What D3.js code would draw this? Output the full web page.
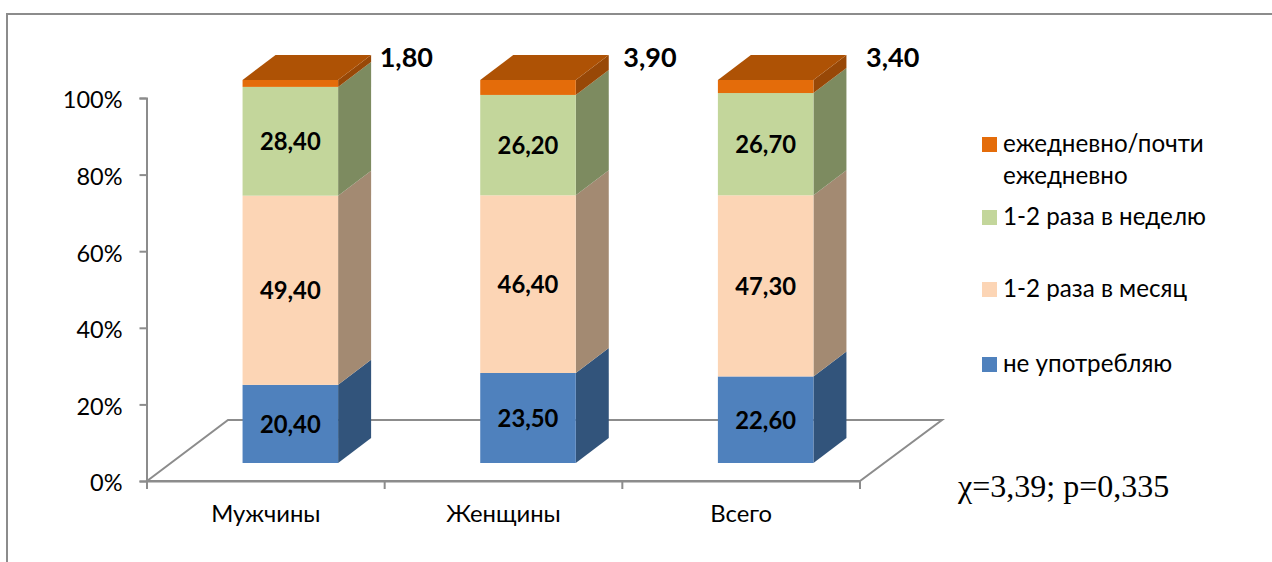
<!DOCTYPE html>
<html lang="ru">
<head>
<meta charset="utf-8">
<script src="https://cdn.jsdelivr.net/npm/d3@7/dist/d3.min.js"></script>
<style>
  html, body { margin: 0; padding: 0; background: #fff; }
  svg { display: block; }
  text { font-family: Lato, "Open Sans", sans-serif; fill: #000; }
</style>
</head>
<body>
<svg id="chart" width="1272" height="562"></svg>
<script>
// Frequency of use by group, percent of each group
const categories = ["Мужчины", "Женщины", "Всего"];
const neverUse = [20.4, 23.5, 22.6];
const monthly = [49.4, 46.4, 47.3];
const weekly = [28.4, 26.2, 26.7];
const daily = [1.8, 3.9, 3.4];
const seriesNames = ["не употребляю", "1-2 раза в месяц", "1-2 раза в неделю", "ежедневно/почти ежедневно"];
const yTicks = [0, 20, 40, 60, 80, 100];
const statNote = "χ=3,39; p=0,335";

const rows = categories.map((c, i) => ({
  category: c,
  s0: neverUse[i], s1: monthly[i], s2: weekly[i], s3: daily[i]
}));
const keys = ["s0", "s1", "s2", "s3"];
const stacked = d3.stack().keys(keys)(rows);

const frontFill = ["#4f81bd", "#fcd5b5", "#c3d69b", "#e46c0a"];
const sideFill = ["#32547b", "#a38a72", "#7d8b60", "#984807"];
const topFill = "#ae5205";
const axisGrey = "#8c8c8c";

const svg = d3.select("#chart");

// Outer chart border: only the top and left edges fall inside the page
svg.append("path")
  .attr("d", "M7,562V14H1272")
  .attr("fill", "none").attr("stroke", axisGrey).attr("stroke-width", 2);

const plot = { left: 147, right: 860, top: 98, bottom: 481 };
const depth = { dx: 33, dy: 25 };        // bar extrusion
const floor = { dx: 81, dy: 61 };        // floor extrusion
const lift = 18;                          // bars stand this far above the front floor edge
const barShift = 24.5;                    // and this far behind it, to the right

const x = d3.scaleBand().domain(categories)
  .range([plot.left, plot.right]).paddingInner(0.598).paddingOuter(0.299);
const y = d3.scaleLinear().domain([0, 100]).range([plot.bottom, plot.top]);

// Floor parallelogram, behind the bars
svg.append("path")
  .attr("d", `M${plot.left},${plot.bottom}L${plot.left + floor.dx},${plot.bottom - floor.dy}` +
             `H${plot.right + floor.dx + 1}L${plot.right},${plot.bottom}Z`)
  .attr("fill", "none").attr("stroke", axisGrey).attr("stroke-width", 2)
  .attr("stroke-linejoin", "miter");

// Value axis
const yAxis = svg.append("g").attr("transform", `translate(${plot.left - 0.5},0)`)
  .call(d3.axisLeft(y).tickValues(yTicks).tickFormat(d => d + "%").tickSize(7).tickPadding(17));
yAxis.selectAll("text").style("font-size", "23.5px").style("fill", "#000").attr("dy", "0.42em");

// Category axis
const xAxis = svg.append("g").attr("transform", `translate(0,${plot.bottom})`)
  .call(d3.axisBottom(x).tickSize(0).tickPadding(24));
xAxis.selectAll("text").style("font-size", "23.8px").style("fill", "#000");
xAxis.selectAll(".tick line").remove();
svg.selectAll(".domain").attr("stroke", axisGrey).attr("stroke-width", 2);
yAxis.selectAll(".tick line").attr("stroke", axisGrey).attr("stroke-width", 2);

// Category boundary ticks on the front floor edge
const step = x.step();
svg.append("g").selectAll("line")
  .data(d3.range(categories.length + 1))
  .join("line")
  .attr("x1", i => plot.left + i * step).attr("x2", i => plot.left + i * step)
  .attr("y1", plot.bottom).attr("y2", plot.bottom + 8)
  .attr("stroke", axisGrey).attr("stroke-width", 2);

const barX0 = c => x(c) + barShift;
const barX1 = c => x(c) + barShift + x.bandwidth();
const barY = v => y(v) - lift;

// Stacked columns, each segment a front face plus a side face
const series = svg.selectAll("g.series").data(stacked).join("g").attr("class", "series");

series.selectAll("path.side")
  .data((s, si) => s.map(d => ({ d, si })))
  .join("path").attr("class", "side")
  .attr("fill", e => sideFill[e.si])
  .attr("d", e => {
    const xr = barX1(e.d.data.category);
    const y0 = barY(e.d[0]), y1 = barY(e.d[1]);
    return `M${xr},${y0}V${y1}L${xr + depth.dx},${y1 - depth.dy}V${y0 - depth.dy}Z`;
  });

series.selectAll("rect.front")
  .data((s, si) => s.map(d => ({ d, si })))
  .join("rect").attr("class", "front")
  .attr("fill", e => frontFill[e.si])
  .attr("x", e => barX0(e.d.data.category))
  .attr("width", x.bandwidth())
  .attr("y", e => barY(e.d[1]))
  .attr("height", e => barY(e.d[0]) - barY(e.d[1]));

// Top face of each column
svg.append("g").selectAll("path")
  .data(rows)
  .join("path")
  .attr("fill", topFill)
  .attr("d", r => {
    const t = barY(100);
    return `M${barX0(r.category)},${t}L${barX0(r.category) + depth.dx},${t - depth.dy}` +
           `H${barX1(r.category) + depth.dx}L${barX1(r.category)},${t}Z`;
  });

// Value labels
const fmt = v => v.toFixed(2).replace(".", ",");
const labels = svg.append("g").style("font-weight", 700).style("font-size", "23.8px")
  .attr("text-anchor", "middle");

stacked.slice(0, 3).forEach(s => {
  labels.selectAll(null).data(s).join("text")
    .attr("x", d => x(d.data.category) + barShift + x.bandwidth() / 2)
    .attr("y", d => (barY(d[0]) + barY(d[1])) / 2 + 9)
    .text(d => fmt(d[1] - d[0]));
});

// The thin top segments carry their labels beside the column
const outsideOffset = [116, 122, 127];
labels.selectAll(null).data(stacked[3]).join("text")
  .attr("x", (d, i) => x(d.data.category) + barShift + x.bandwidth() / 2 + outsideOffset[i])
  .attr("y", 67)
  .style("font-size", "27px")
  .text(d => fmt(d[1] - d[0]));

// Legend, in reverse stacking order
const legendRows = [
  { i: 3, lines: ["ежедневно/почти", "ежедневно"], top: 137 },
  { i: 2, lines: ["1-2 раза в неделю"], top: 210 },
  { i: 1, lines: ["1-2 раза в месяц"], top: 282 },
  { i: 0, lines: ["не употребляю"], top: 357 }
];
const legend = svg.append("g");
legendRows.forEach(row => {
  legend.append("rect")
    .attr("x", 982).attr("y", row.top).attr("width", 15).attr("height", 15)
    .attr("fill", frontFill[row.i]);
  row.lines.forEach((line, k) => {
    legend.append("text")
      .attr("x", 1003).attr("y", row.top + 15 + k * 32)
      .style("font-size", "24.2px")
      .text(line);
  });
});

svg.append("text")
  .attr("x", 958).attr("y", 497)
  .style("font-family", "'Liberation Serif', serif")
  .style("font-size", "32px")
  .text(statNote);
</script>
</body>
</html>
